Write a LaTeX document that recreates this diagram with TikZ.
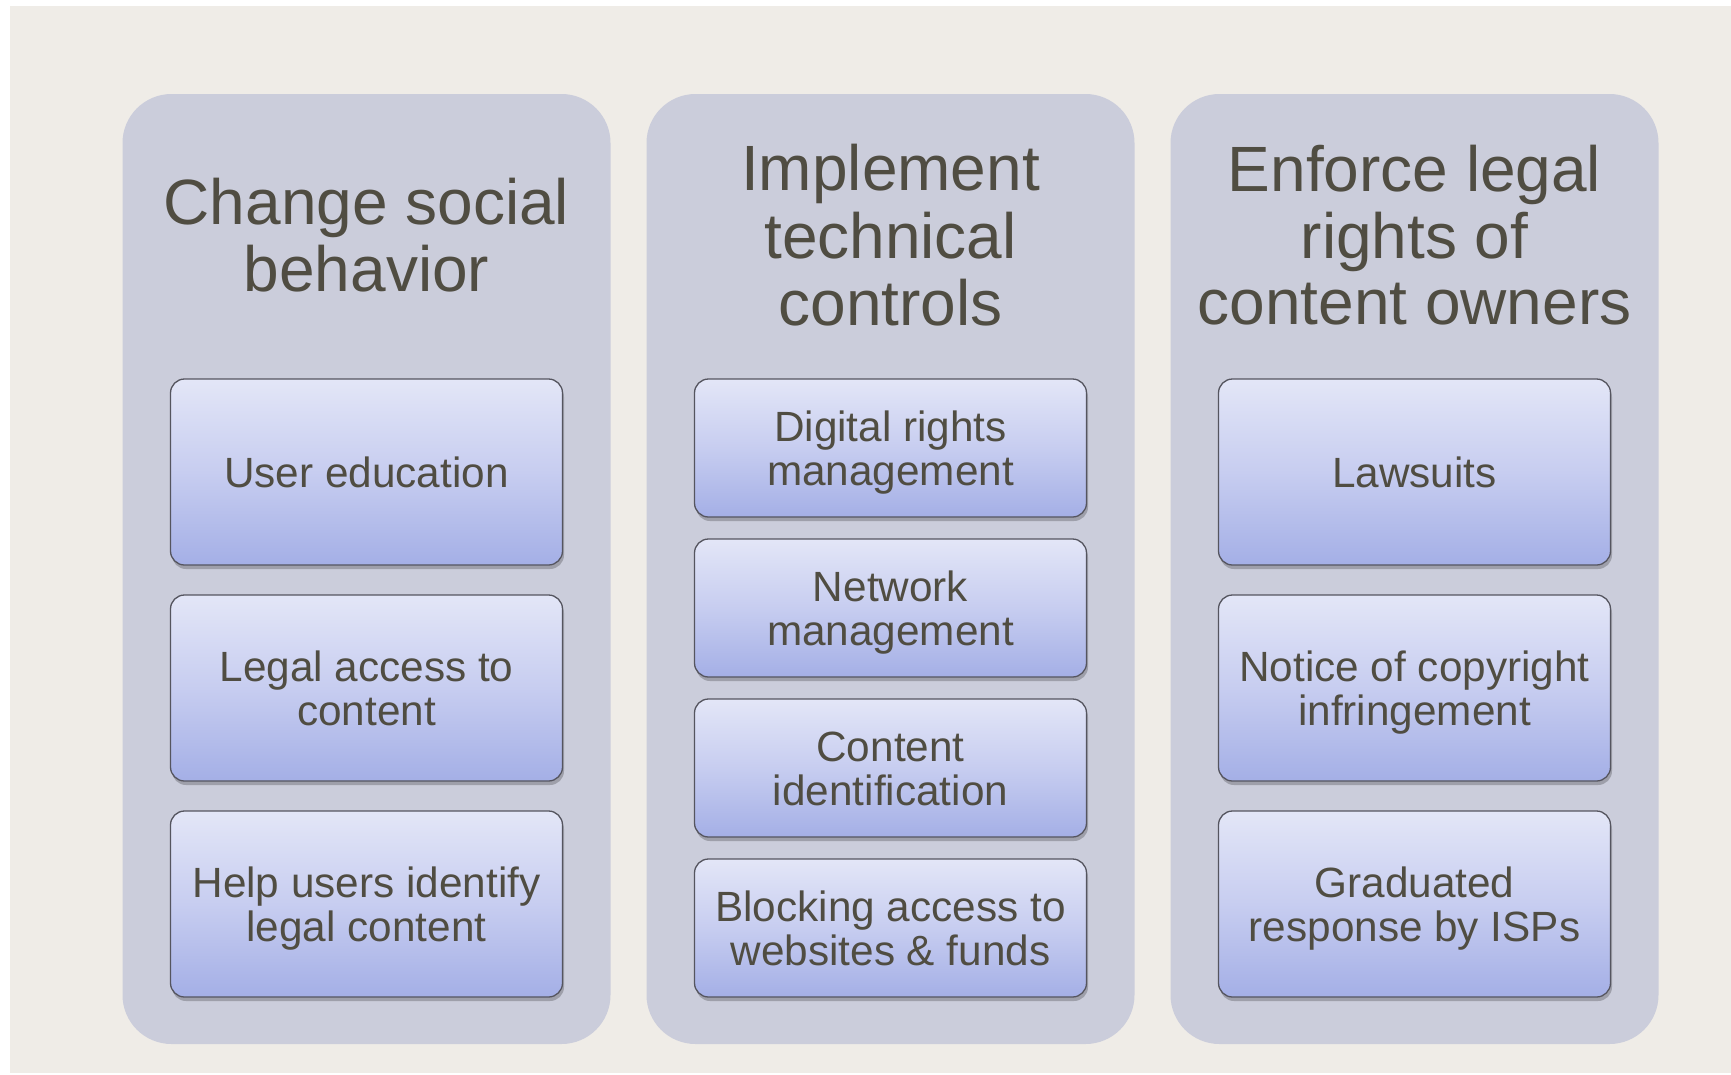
\documentclass[tikz,border=0pt]{standalone}
\usepackage{fontspec}
\setmainfont{Liberation Sans}
\usetikzlibrary{shadows}
\definecolor{bgc}{RGB}{239,236,231}
\definecolor{panelc}{RGB}{203,205,219}
\definecolor{txtc}{RGB}{80,77,66}
\definecolor{boxtop}{RGB}{227,230,247}
\definecolor{boxmid}{RGB}{199,205,240}
\definecolor{boxbot}{RGB}{164,175,230}
\definecolor{boxline}{RGB}{85,85,95}
\begin{document}
\begin{tikzpicture}[x=1pt,y=-1pt,
  panel/.style={rectangle, rounded corners=49pt, fill=panelc, minimum width=488pt, minimum height=950pt, inner sep=0pt},
  item/.style={rectangle, rounded corners=14pt, draw=boxline, line width=1.3pt,
    top color=boxtop, bottom color=boxbot, middle color=boxmid,
    minimum width=392pt, inner sep=0pt,
    drop shadow={shadow xshift=1.5pt, shadow yshift=-4pt, opacity=0.22, fill=black}},
  tallbox/.style={item, minimum height=186pt},
  shortbox/.style={item, minimum height=138pt},
  ttl/.style={text=txtc, align=center, inner sep=0pt, font=\fontsize{64}{66}\selectfont},
  itxt/.style={text=txtc, align=center, inner sep=0pt, font=\fontsize{42.3}{44}\selectfont}]
\useasboundingbox (0,0) rectangle (1731,1074);
\fill[white] (0,0) rectangle (1731,1074);
\fill[bgc] (10,6) rectangle (1731,1073);

% panels
\node[panel] (p1) at (366.5,569) {};
\node[panel] (p2) at (890.5,569) {};
\node[panel] (p3) at (1414.5,569) {};

% titles
\node[ttl] (t1) at (366.5,244.8) {\strut Change social\\\strut behavior};
\node[ttl] (t2) at (890.5,244.8) {\strut Implement\\\strut technical\\\strut controls};
\node[ttl] (t3) at (1414.5,244.8) {\strut Enforce legal\\\strut rights of\\\strut content owners};

% column 1
\node[tallbox] (b11) at (366.5,472) {};
\node[tallbox] (b12) at (366.5,688) {};
\node[tallbox] (b13) at (366.5,904) {};
\node[itxt] (l11) at ([yshift=-6.4pt]b11.center) {\strut User education};
\node[itxt] (l12) at ([yshift=-6.4pt]b12.center) {\strut Legal access to\\\strut content};
\node[itxt] (l13) at ([yshift=-6.4pt]b13.center) {\strut Help users identify\\\strut legal content};

% column 2
\node[shortbox] (b21) at (890.5,448) {};
\node[shortbox] (b22) at (890.5,608) {};
\node[shortbox] (b23) at (890.5,768) {};
\node[shortbox] (b24) at (890.5,928) {};
\node[itxt] (l21) at ([yshift=-6.4pt]b21.center) {\strut Digital rights\\\strut management};
\node[itxt] (l22) at ([yshift=-6.4pt]b22.center) {\strut Network\\\strut management};
\node[itxt] (l23) at ([yshift=-6.4pt]b23.center) {\strut Content\\\strut identification};
\node[itxt] (l24) at ([yshift=-6.4pt]b24.center) {\strut Blocking access to\\\strut websites \& funds};

% column 3
\node[tallbox] (b31) at (1414.5,472) {};
\node[tallbox] (b32) at (1414.5,688) {};
\node[tallbox] (b33) at (1414.5,904) {};
\node[itxt] (l31) at ([yshift=-6.4pt]b31.center) {\strut Lawsuits};
\node[itxt] (l32) at ([yshift=-6.4pt]b32.center) {\strut Notice of copyright\\\strut infringement};
\node[itxt] (l33) at ([yshift=-6.4pt]b33.center) {\strut Graduated\\\strut response by ISPs};
\end{tikzpicture}
\end{document}
